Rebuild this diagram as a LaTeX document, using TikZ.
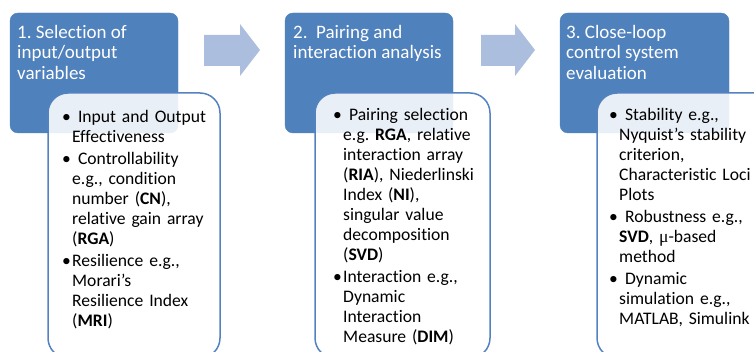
\documentclass[tikz,border=0pt]{standalone}
\usepackage{fontspec}
\setmainfont{Carlito}[Ligatures=NoCommon]
\newfontfamily\mufont{Liberation Serif}
\frenchspacing
\definecolor{stepblue}{RGB}{79,129,189}
\definecolor{arrowblue}{RGB}{172,190,222}
\definecolor{edgeblue}{RGB}{84,130,192}
% bullet hanging in the left margin
\newcommand{\bitem}{\par\leftskip=10pt\noindent\llap{\makebox[10pt][l]{\textbullet}}}
\newcommand{\gap}{\par\vspace{2pt}}

\begin{document}
\begin{tikzpicture}[x=1pt,y=-1pt,
  head/.style={anchor=north west,inner sep=0pt,text=white,align=left,font=\fontsize{19}{20.5}\selectfont},
  body/.style={anchor=north west,inner sep=0pt,text width=170pt,font=\fontsize{17.6}{20}\selectfont},
  stepbox/.style={fill=stepblue,draw=stepblue,rounded corners=8pt},
  listbox/.style={fill=white,fill opacity=0.88,draw=edgeblue,line width=1.5pt,rounded corners=20pt},
  flow/.style={fill=arrowblue}]
\useasboundingbox (0,0) rectangle (754,352);
\clip (0,0) rectangle (754,352);

% blue step boxes
\draw[stepbox] (10,13) rectangle (178,133);
\draw[stepbox] (285,13) rectangle (453,133);
\draw[stepbox] (560,13) rectangle (729,133);

\node[head] (title1) at (17,25) {1. Selection of\\input/output\\variables};
\node[head] (title2) at (293,25) {2.\ \ Pairing and\\interaction analysis};
\node[head] (title3) at (566,25) {3. Close-loop\\control system\\evaluation};

% block arrows
\fill[flow] (204,35) -- (240,35) -- (240,24) -- (260,50) -- (240,76) -- (240,66) -- (204,66) -- cycle;
\fill[flow] (481,35) -- (515,35) -- (515,24) -- (535,50) -- (515,76) -- (515,66) -- (481,66) -- cycle;

% white list boxes
\draw[listbox] (48,93) rectangle (220,358);
\draw[listbox] (315,93) rectangle (490,358);
\draw[listbox] (597,93) rectangle (775,358);

\node[body] (list1) at (62,102) {%
\bitem\ Input and Output\\Effectiveness\gap
\bitem\ Controllability\\e.g., condition\\number (\textbf{CN}),\\relative gain array\\(\textbf{RGA})\gap
\bitem Resilience e.g.,\\Morari’s\\Resilience Index\\(\textbf{MRI})\par};

\node[body] (list2) at (333,100) {%
\bitem\ Pairing selection\\e.g. \textbf{RGA}, relative\\interaction array\\(\textbf{RIA}), Niederlinski\\Index (\textbf{NI}),\\singular value\\decomposition\\(\textbf{SVD})\gap
\bitem Interaction e.g.,\\Dynamic\\Interaction\\Measure (\textbf{DIM})\par};

\node[body] (list3) at (609,100) {%
\bitem\ Stability e.g.,\\Nyquist’s stability\\criterion,\\Characteristic Loci\\Plots\gap
\bitem\ Robustness e.g.,\\\textbf{SVD}, {\mufont μ}-based\\method\gap
\bitem\ Dynamic\\simulation e.g.,\\MATLAB, Simulink\par};
\end{tikzpicture}
\end{document}
